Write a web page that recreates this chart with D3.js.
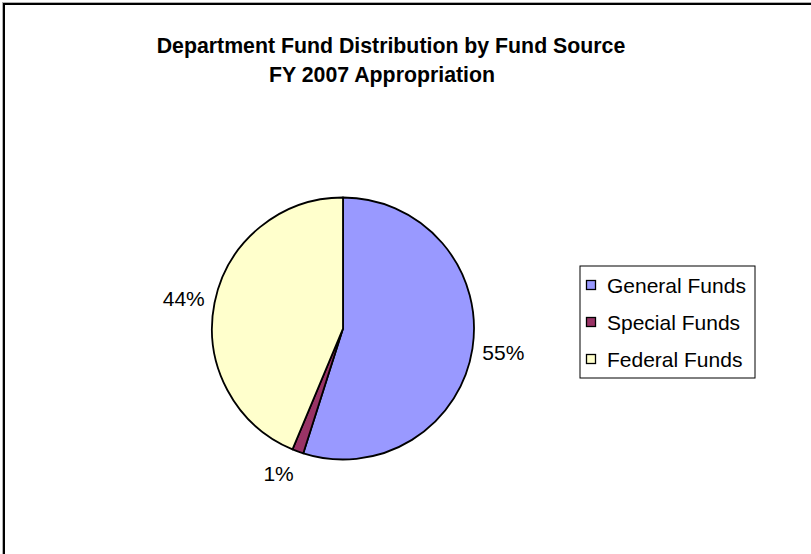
<!DOCTYPE html>
<html>
<head>
<meta charset="utf-8">
<script src="https://cdn.jsdelivr.net/npm/d3@7"></script>
<style>
  html, body { margin: 0; padding: 0; background: #ffffff; }
  svg { display: block; font-family: "Liberation Sans", Arial, sans-serif; }
</style>
</head>
<body>
<svg id="chart" width="811" height="554"></svg>
<script>
// Fund sources and their share of the FY 2007 appropriation (percent)
const categories = ["General Funds", "Special Funds", "Federal Funds"];
const values = [54.9, 1.4, 43.7];
const colors = ["#9999FF", "#993366", "#FFFFCC"];
const titleLines = ["Department Fund Distribution by Fund Source", "FY 2007 Appropriation"];

const svg = d3.select("#chart");

// chart frame (runs off the right and bottom edges)
svg.append("rect")
  .attr("x", 2.5).attr("y", 2.5)
  .attr("width", 830).attr("height", 580)
  .attr("fill", "#ffffff")
  .attr("stroke", "#b0b0b0").attr("stroke-width", 1);
svg.append("rect")
  .attr("x", 4).attr("y", 4)
  .attr("width", 830).attr("height", 580)
  .attr("fill", "none")
  .attr("stroke", "#000000").attr("stroke-width", 2);

// title
const title = svg.append("g").attr("font-weight", "bold").attr("font-size", 21.3)
  .attr("text-anchor", "middle").attr("fill", "#000");
title.append("text").attr("x", 391).attr("y", 53).text(titleLines[0]);
title.append("text").attr("x", 382).attr("y", 82).text(titleLines[1]);

// pie
const cx = 343, cy = 328.5, radius = 131;
const pie = d3.pie().sort(null).value(d => d)(values);
const arc = d3.arc().innerRadius(0).outerRadius(radius);

const g = svg.append("g").attr("transform", `translate(${cx},${cy})`);
g.selectAll("path.slice")
  .data(pie)
  .join("path")
  .attr("class", "slice")
  .attr("d", arc)
  .attr("fill", (d, i) => colors[i])
  .attr("stroke", "#000")
  .attr("stroke-width", 1.8)
  .attr("stroke-linejoin", "round");

// percentage labels: box pushed sideways and outward from the slice's mid-angle point
const fontSize = 21;
const labelR = radius + 9;
const fmt = d3.format(".0f");
g.selectAll("text.pct")
  .data(pie)
  .join("text")
  .attr("class", "pct")
  .attr("font-size", fontSize)
  .attr("fill", "#000")
  .attr("text-anchor", "middle")
  .text(d => fmt(d.data) + "%")
  .each(function (d) {
    const a = (d.startAngle + d.endAngle) / 2;
    const px = labelR * Math.sin(a), py = -labelR * Math.cos(a);
    const w = this.getComputedTextLength();
    const hw = w / 2 + 1, hh = 14;
    const x = px + hw * Math.sign(Math.sin(a));
    const y = py - hh * Math.cos(a);
    d3.select(this).attr("x", x).attr("y", y + fontSize * 0.36);
  });

// legend
const legend = svg.append("g");
const lx = 580, ly = 266, lw = 175, lh = 112, rowGap = 37;
legend.append("rect")
  .attr("x", lx).attr("y", ly).attr("width", lw).attr("height", lh)
  .attr("fill", "#fff").attr("stroke", "#000").attr("stroke-width", 1);
const rows = legend.selectAll("g.row")
  .data(categories)
  .join("g")
  .attr("class", "row")
  .attr("transform", (d, i) => `translate(${lx}, ${ly + 19 + i * rowGap})`);
rows.append("rect")
  .attr("x", 6.5).attr("y", -4.5).attr("width", 9).attr("height", 9)
  .attr("fill", (d, i) => colors[i])
  .attr("stroke", "#000").attr("stroke-width", 1.3);
rows.append("text")
  .attr("x", 27).attr("y", 7.5)
  .attr("font-size", fontSize)
  .attr("fill", "#000")
  .text(d => d);
</script>
</body>
</html>
